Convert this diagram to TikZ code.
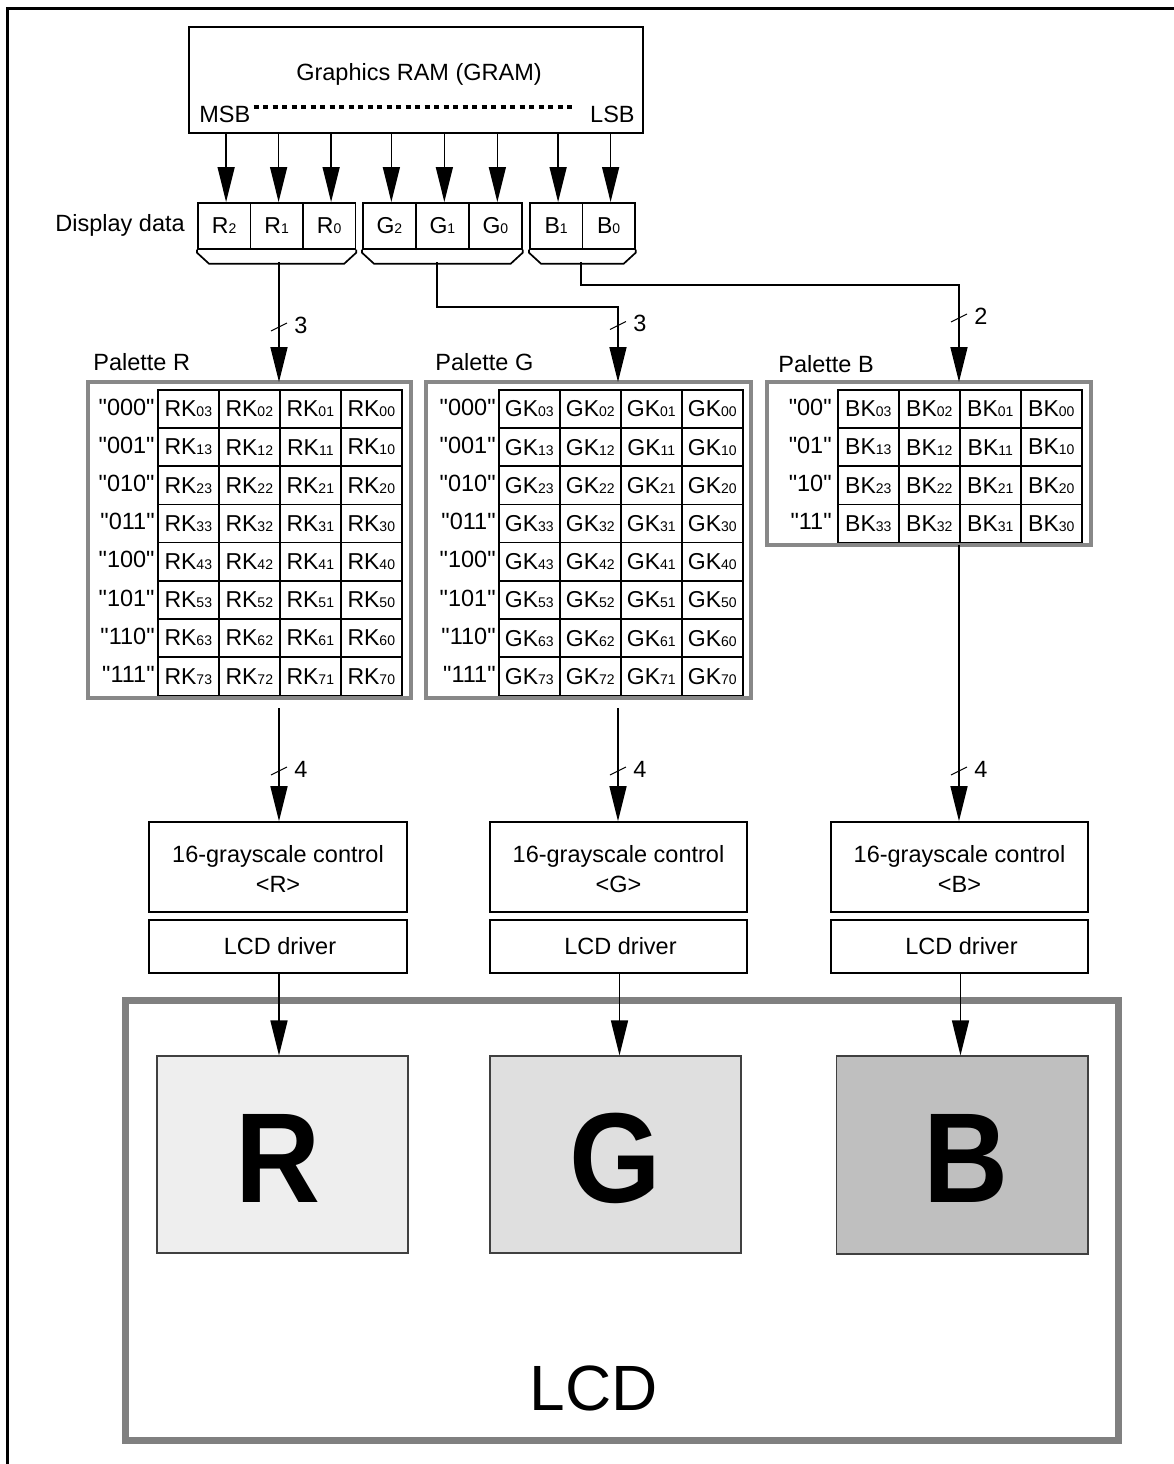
\documentclass[tikz,border=0pt]{standalone}
\usepackage{fontspec}
\setmainfont{Liberation Sans}
\newfontfamily\qf{Liberation Sans}
\usetikzlibrary{arrows.meta,calc,fit}
\newcommand\sbs[1]{{\fontsize{7}{8}\selectfont #1}}
\definecolor{lcdgray}{HTML}{808080}
\definecolor{palgray}{HTML}{888888}
\definecolor{scrR}{HTML}{EEEEEE}
\definecolor{scrG}{HTML}{DFDFDF}
\definecolor{scrB}{HTML}{BFBFBF}
\begin{document}
\begin{tikzpicture}[x=0.5pt,y=-0.5pt,
  box/.style={draw, line width=0.85pt, inner sep=0pt},
  pal/.style={draw=palgray, line width=2pt, inner sep=0pt},
  cell/.style={draw, line width=0.8pt, inner sep=0pt, anchor=north west, minimum width=30.5pt, minimum height=19.1pt, font=\qf\fontsize{11.5}{13}\selectfont},
  ddcell/.style={draw, line width=0.85pt, inner sep=0pt, anchor=north west, minimum height=23pt, font=\qf\fontsize{11.5}{13}\selectfont},
  lbl/.style={inner sep=0pt, font=\qf\fontsize{11.75}{15}\selectfont},
  arr/.style={line width=0.75pt, -{Triangle[length=17.5pt,width=8.5pt]}},
  slash/.style={line width=0.5pt},
  scr/.style={draw=black!75, line width=0.6pt, inner sep=0pt},
  trap/.style={line width=0.85pt},
  bigletter/.style={inner sep=0pt, anchor=base, font=\qf\bfseries\fontsize{64}{70}\selectfont},
]
\useasboundingbox (0,0) rectangle (1174,1464);
% outer frame (top and left)
\draw[line width=1.5pt] (7,1464) -- (7,8.5) -- (1174,8.5);

% GRAM
\node[box, fit={(189,27) (643,133)}] (gram) {};
\node[lbl, anchor=base] (gramt) at (419,80) {Graphics RAM (GRAM)};
\node[lbl, anchor=base west] (msb) at (199,122) {MSB};
\node[lbl, anchor=base east] (lsb) at (635,122) {LSB};
\draw[line width=2pt, dash pattern=on 2.5pt off 2.25pt, shorten <=1.5pt, shorten >=8pt]
  ([yshift=3.5pt]msb.east) -- ([yshift=3.5pt]lsb.west);

% Display data
\node[lbl, anchor=base west] (ddl) at (55,231) {Display data};
\node[ddcell, minimum width=26.25pt] (dR2) at (197,202) {R\sbs{2}};
\node[ddcell, minimum width=26.25pt] (dR1) at (249.5,202) {R\sbs{1}};
\node[ddcell, minimum width=26.25pt] (dR0) at (302,202) {R\sbs{0}};
\node[ddcell, minimum width=26.5pt] (dG2) at (362,202) {G\sbs{2}};
\node[ddcell, minimum width=26.5pt] (dG1) at (415,202) {G\sbs{1}};
\node[ddcell, minimum width=26.5pt] (dG0) at (468,202) {G\sbs{0}};
\node[ddcell, minimum width=26.25pt] (dB1) at (529,202) {B\sbs{1}};
\node[ddcell, minimum width=26.25pt] (dB0) at (581.5,202) {B\sbs{0}};

\foreach \c in {dR2,dR1,dR0,dG2,dG1,dG0,dB1,dB0}
  \draw[arr] ([xshift=1pt]gram.south -| \c.north) -- ([xshift=1pt]\c.north);

% multiplexer trapezoids
\draw[trap] (dR2.south west) -- ++(0,3) -- ++(12,11) -- ($(dR0.south east)+(-12,14)$) -- ++(12,-11) -- (dR0.south east);
\draw[trap] (dG2.south west) -- ++(0,3) -- ++(12,11) -- ($(dG0.south east)+(-12,14)$) -- ++(12,-11) -- (dG0.south east);
\draw[trap] (dB1.south west) -- ++(0,3) -- ++(12,11) -- ($(dB0.south east)+(-12,14)$) -- ++(12,-11) -- (dB0.south east);
\coordinate (bR) at (279,262);
\coordinate (bG) at (437,262);
\coordinate (bB) at (581,262);

% palettes
\node[pal, fit={(88,382) (411,698)}] (palR) {};
\node[pal, fit={(426,382) (751,698)}] (palG) {};
\node[pal, fit={(767,382) (1091,545)}] (palB) {};
\node[lbl, anchor=base west] (plR) at (93,370) {Palette R};
\node[lbl, anchor=base west] (plG) at (435,370) {Palette G};
\node[lbl, anchor=base west] (plB) at (778,372) {Palette B};

\foreach \lab [count=\r from 0] in {000,001,010,011,100,101,110,111} {
  \node[lbl, anchor=base east] (lR\r) at (155,{389+38.2*\r+26}) {"\lab"};
  \node[lbl, anchor=base east] (lG\r) at (496,{389+38.2*\r+26}) {"\lab"};
  \foreach \c in {0,...,3} {
    \pgfmathtruncatemacro\k{3-\c}
    \node[cell] (R-\r-\c) at ({157+61*\c},{389+38.2*\r}) {RK\sbs{\r\k}};
    \node[cell] (G-\r-\c) at ({498+61*\c},{389+38.2*\r}) {GK\sbs{\r\k}};
  }
}
\foreach \lab [count=\r from 0] in {00,01,10,11} {
  \node[lbl, anchor=base east] (lB\r) at (832,{389+38.2*\r+26}) {"\lab"};
  \foreach \c in {0,...,3} {
    \pgfmathtruncatemacro\k{3-\c}
    \node[cell] (B-\r-\c) at ({837+61*\c},{389+38.2*\r}) {BK\sbs{\r\k}};
  }
}

% buses into palettes
\coordinate (inR) at (279,382);
\coordinate (inG) at (618,382);
\coordinate (inB) at (959,382);
\draw[arr] (bR) -- (inR);
\draw[arr] (bG) -- ++(0,45) -| (inG);
\draw[arr] (bB) -- ++(0,23) -| (inB);

\coordinate (sR) at (279,327);
\coordinate (sG) at (618,325.5);
\coordinate (sB) at (959,318);
\foreach \s/\n in {sR/3,sG/3,sB/2} {
  \draw[slash] ($(\s)+(-8,4)$) -- ($(\s)+(8,-4)$);
  \node[lbl, anchor=west] (n\s) at ($(\s)+(15,-2)$) {\n};
}

% grayscale control and drivers
\node[box, fit={(149,822) (407,912)}] (gsR) {};
\node[box, fit={(490,822) (747,912)}] (gsG) {};
\node[box, fit={(831,822) (1088,912)}] (gsB) {};
\foreach \b/\t in {gsR/R,gsG/G,gsB/B} {
  \node[lbl, anchor=base] (\b t1) at ($(\b.north)+(0,41)$) {16-grayscale control};
  \node[lbl, anchor=base] (\b t2) at ($(\b.north)+(0,71)$) {<\t>};
}

\node[box, fit={(149,920) (407,973)}] (drR) {};
\node[box, fit={(490,920) (747,973)}] (drG) {};
\node[box, fit={(831,920) (1088,973)}] (drB) {};
\foreach \b in {drR,drG,drB}
  \node[lbl, anchor=base] (\b t) at ($(\b.north)+(2,35)$) {LCD driver};

% palette outputs
\coordinate (oR) at (279,708);
\coordinate (oG) at (618,708);
\coordinate (oB) at (959,545);
\draw[arr] (oR) -- (oR |- gsR.north);
\draw[arr] (oG) -- (oG |- gsG.north);
\draw[arr] (oB) -- (oB |- gsB.north);
\coordinate (fR) at (279,771);
\coordinate (fG) at (618,771);
\coordinate (fB) at (959,771);
\foreach \s in {fR,fG,fB} {
  \draw[slash] ($(\s)+(-8,4)$) -- ($(\s)+(8,-4)$);
  \node[lbl, anchor=west] (n\s) at ($(\s)+(15,-2)$) {4};
}

% LCD
\node[draw=lcdgray, line width=3.5pt, inner sep=0pt, fit={(125.5,1000.5) (1118,1440.5)}] (lcd) {};
\node[scr, fill=scrR, fit={(157,1056) (408,1253)}] (scR) {};
\node[scr, fill=scrG, fit={(490,1056) (741,1253)}] (scG) {};
\node[scr, fill=scrB, fit={(836.5,1056) (1088,1254)}] (scB) {};
\node[bigletter] (LR) at ($(scR.south)+(-4,-51)$) {\scalebox{0.92}[1]{R}};
\node[bigletter] (LG) at ($(scG.south)+(0,-51)$) {\scalebox{0.92}[1]{G}};
\node[bigletter] (LB) at ($(scB.south)+(4,-52)$) {\scalebox{0.92}[1]{B}};
\node[inner sep=0pt, anchor=base, font=\qf\fontsize{32}{36}\selectfont] (lcdt) at (594,1410) {LCD};

\draw[arr] ([xshift=0.5pt]drR.south) -- ([xshift=0.5pt]drR.south |- scR.north);
\draw[arr] ([xshift=0.5pt]drG.south) -- ([xshift=0.5pt]drG.south |- scG.north);
\draw[arr] ([xshift=0.5pt]drB.south) -- ([xshift=0.5pt]drB.south |- scB.north);
\end{tikzpicture}
\end{document}
